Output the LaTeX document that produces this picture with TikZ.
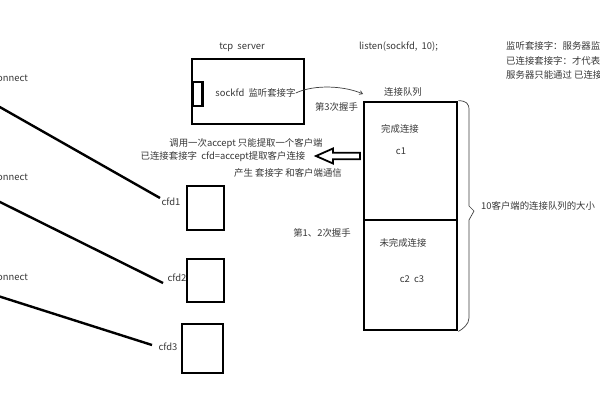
\documentclass[tikz,border=0pt]{standalone}
\usepackage{fontspec}
\setmainfont{Noto Sans CJK SC}
\usetikzlibrary{arrows.meta}
\begin{document}
\begin{tikzpicture}[x=1pt,y=-1pt,
  txt/.style={inner sep=0pt, text=black!78, font=\fontsize{9.4}{11}\selectfont},
  box/.style={draw=black, line width=2.8pt, inner sep=0pt, minimum width=#1},
  wire/.style={draw=black, line width=2.4pt},
  thin/.style={draw=black!75, line width=0.7pt}]
\useasboundingbox (0,0) rectangle (600,400);
\clip (0,0) rectangle (600,400);
\fill[white] (0,0) rectangle (600,400);

% server
\node[box=112pt, minimum height=65pt] (srv) at (248,91.5) {};
\node[box=10pt, minimum height=24pt, line width=2.4pt] (port) at (197.5,94) {};
\node[txt] (tcp) at (242,47) {tcp\ \ server};
\node[txt] (sockfd) at (255.5,93) {sockfd\ \ 监听套接字};
\node[txt] (listen) at (398.5,47) {listen(sockfd,\ \ 10);};

% notes right
\node[txt, anchor=west] (n1) at (506,46) {监听套接字：服务器监};
\node[txt, anchor=west] (n2) at (506,60.5) {已连接套接字：才代表};
\node[txt, anchor=west] (n3) at (506,75) {服务器只能通过 已连接};

% queue
\node[box=93pt, minimum height=118pt] (done) at (410.5,161) {};
\node[box=93pt, minimum height=110pt] (pend) at (410.5,275) {};
\node[txt] (qlab) at (403,92) {连接队列};
\node[txt] (donelab) at (400,129) {完成连接};
\node[txt] (c1) at (401,151) {c1};
\node[txt] (pendlab) at (403,243) {未完成连接};
\node[txt] (c23) at (412,279) {c2\ \ c3};
\node[txt] (hs12) at (322,233) {第1、2次握手};
\node[txt] (hs3) at (336.5,107) {第3次握手};
\node[txt, anchor=west] (size) at (481,206) {10客户端的连接队列的大小};

% brace
\draw[thin] (done.north east) .. controls (466,101) and (469,103) .. (469,110)
  -- (469,206) -- (474,211) -- (469,220) -- (469,318)
  .. controls (469,324) and (463,329) .. (pend.south east);

% curved arrow from sockfd to queue
\coordinate (qin) at (363,94);
\draw[thin, -{Straight Barb[length=3pt,width=4pt]}] (sockfd.east) .. controls (315,84) and (345,86) .. (qin);

% hollow arrow
\draw[black, line width=1.8pt, line join=miter, fill=white]
  (316,156) -- (333,148.5) -- (333,152.8) -- (360,152.8) -- (360,159.2)
  -- (333,159.2) -- (333,163.5) -- cycle;

% accept texts
\node[txt] (acc1) at (246,144) {调用一次accept 只能提取一个客户端};
\node[txt] (acc2) at (223,156.5) {已连接套接字\ \ cfd=accept提取客户连接};
\node[txt] (acc3) at (288,173) {产生 套接字 和客户端通信};

% client sockets
\node[box=37pt, minimum height=44pt] (cfd1) at (205.5,208) {};
\node[box=37pt, minimum height=43pt] (cfd2) at (205.5,280.5) {};
\node[box=41pt, minimum height=49pt] (cfd3) at (202.5,348.5) {};
\node[txt] (l1) at (171,202) {cfd1};
\node[txt] (l2) at (177,278) {cfd2};
\node[txt] (l3) at (168,347) {cfd3};

% connect labels
\node[txt, anchor=east] (k1) at (28,78) {onnect};
\node[txt, anchor=east] (k2) at (28,177) {onnect};
\node[txt, anchor=east] (k3) at (28,277) {onnect};

\coordinate (s1) at (-2,106);
\coordinate (s2) at (-2,201);
\coordinate (s3) at (-2,296);
\coordinate (e1) at (160,198);
\coordinate (e2) at (163,283);
\coordinate (e3) at (152,345);
\draw[wire] (s1) -- (e1);
\draw[wire] (s2) -- (e2);
\draw[wire] (s3) -- (e3);
\end{tikzpicture}
\end{document}
